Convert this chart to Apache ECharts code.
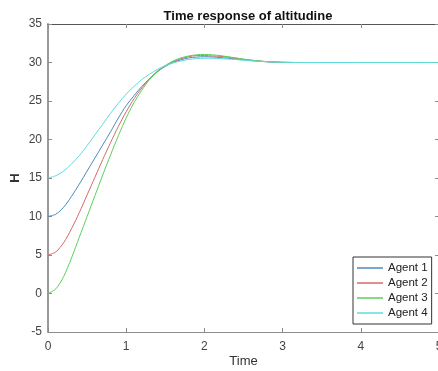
<!DOCTYPE html>
<html>
<head>
<meta charset="utf-8">
<script src="https://cdn.jsdelivr.net/npm/echarts@6/dist/echarts.min.js"></script>
<style>
  html, body { margin: 0; padding: 0; background: #fff; }
  #chart { width: 438px; height: 371px; }
</style>
</head>
<body>
<div id="chart"></div>
<script>
const times = [0, 0.1, 0.2, 0.3, 0.4, 0.5, 0.6, 0.7, 0.8, 0.9, 1.0, 1.1, 1.2, 1.3, 1.4, 1.5,
  1.6, 1.7, 1.8, 1.9, 2.0, 2.1, 2.2, 2.3, 2.4, 2.5, 2.6, 2.7, 2.8, 2.9, 3.0, 3.2, 3.5, 4, 4.5, 5];

const agent1 = [10, 10.3, 11.2, 12.6, 14.2, 15.9, 17.6, 19.3, 21.0, 22.8, 24.4, 25.7, 26.9, 27.9, 28.8, 29.5,
  30.0, 30.35, 30.6, 30.7, 30.75, 30.72, 30.65, 30.55, 30.45, 30.35, 30.25, 30.17, 30.1, 30.05, 30.02, 30.0, 30.0, 30, 30, 30];
const agent2 = [5, 5.4, 6.6, 8.4, 10.5, 12.8, 15.1, 17.4, 19.6, 21.7, 23.6, 25.3, 26.7, 27.9, 28.9, 29.6,
  30.1, 30.5, 30.75, 30.9, 30.9, 30.85, 30.8, 30.7, 30.55, 30.4, 30.3, 30.2, 30.1, 30.05, 30.02, 30.0, 30.0, 30, 30, 30];
const agent3 = [0, 0.6, 2.2, 4.6, 7.3, 10.0, 12.7, 15.4, 18.0, 20.5, 22.8, 24.8, 26.4, 27.8, 28.8, 29.6,
  30.2, 30.6, 30.85, 31.0, 31.05, 31.0, 30.9, 30.75, 30.6, 30.45, 30.3, 30.2, 30.12, 30.06, 30.02, 30.0, 30.0, 30, 30, 30];
const agent4 = [15, 15.3, 15.9, 16.8, 17.9, 19.2, 20.6, 22.0, 23.4, 24.7, 25.9, 26.9, 27.8, 28.5, 29.1, 29.6,
  29.95, 30.2, 30.4, 30.5, 30.55, 30.55, 30.5, 30.45, 30.38, 30.3, 30.22, 30.15, 30.1, 30.05, 30.02, 30.0, 30.0, 30, 30, 30];

const names = ["Agent 1", "Agent 2", "Agent 3", "Agent 4"];
const colors = ["#4b8bbf", "#d46a6a", "#5ccf5c", "#5fdcdc"];
const xTicks = [0, 1, 2, 3, 4, 5];
const yTicks = [-5, 0, 5, 10, 15, 20, 25, 30, 35];

const pairs = (ys) => times.map((t, i) => [t, ys[i]]);
const font = "Liberation Sans, Arial, sans-serif";
const axisGray = "#8c8c8c";

const chart = echarts.init(document.getElementById("chart"));

const baseX = {
  type: "value",
  min: xTicks[0],
  max: xTicks[xTicks.length - 1],
  interval: 1,
  splitLine: { show: false },
  axisLine: { show: true, onZero: false, lineStyle: { color: axisGray, width: 1 } },
  axisTick: { show: true, inside: true, length: 4, lineStyle: { color: axisGray } },
};
const baseY = {
  type: "value",
  min: yTicks[0],
  max: yTicks[yTicks.length - 1],
  interval: 5,
  splitLine: { show: false },
  axisLine: { show: true, onZero: false, lineStyle: { color: axisGray, width: 1 } },
  axisTick: { show: true, inside: true, length: 4, lineStyle: { color: axisGray } },
};

chart.setOption({
  animation: false,
  backgroundColor: "#fff",
  title: {
    text: "Time response of altitudine",
    left: 243,
    textAlign: "center",
    top: 5,
    textStyle: { fontFamily: font, fontSize: 13, fontWeight: "bold", color: "#111" },
  },
  grid: { left: 48, right: -1, top: 24, bottom: 39, containLabel: false, outerBoundsMode: "none" },
  legend: {
    data: names,
    orient: "vertical",
    left: 353,
    top: 257,
    icon: "rect",
    itemWidth: 26,
    itemHeight: 1.5,
    itemGap: 1,
    padding: [4, 4, 4, 4],
    backgroundColor: "#fff",
    borderColor: "#333",
    borderWidth: 1,
    borderRadius: 0,
    textStyle: { fontFamily: font, fontSize: 11.5, color: "#222", lineHeight: 14 },
  },
  xAxis: [
    Object.assign({}, baseX, {
      position: "bottom",
      name: "Time",
      nameLocation: "middle",
      nameGap: 23,
      nameMoveOverlap: false,
      nameTextStyle: { fontFamily: font, fontSize: 13, color: "#333" },
      axisLabel: { fontFamily: font, fontSize: 12, color: "#444", margin: 9 },
    }),
    Object.assign({}, baseX, {
      position: "top",
      axisLabel: { show: false },
      axisLine: { show: true, onZero: false, lineStyle: { color: "#555", width: 1 } },
    }),
  ],
  yAxis: [
    Object.assign({}, baseY, {
      position: "left",
      name: "H",
      nameLocation: "middle",
      nameGap: 26,
      nameMoveOverlap: false,
      nameTextStyle: { fontFamily: font, fontSize: 13, fontWeight: "bold", color: "#333" },
      axisLine: { show: true, onZero: false, lineStyle: { color: "#9a9a9a", width: 2 } },
      axisLabel: { fontFamily: font, fontSize: 12, color: "#444", margin: 6 },
    }),
    Object.assign({}, baseY, {
      position: "right",
      axisLabel: { show: false },
    }),
  ],
  series: [agent1, agent2, agent3, agent4].map((ys, i) => ({
    name: names[i],
    type: "line",
    data: pairs(ys),
    smooth: 0.3,
    symbol: "none",
    lineStyle: { width: 1, color: colors[i] },
    itemStyle: { color: colors[i] },
  })),
});
</script>
</body>
</html>
